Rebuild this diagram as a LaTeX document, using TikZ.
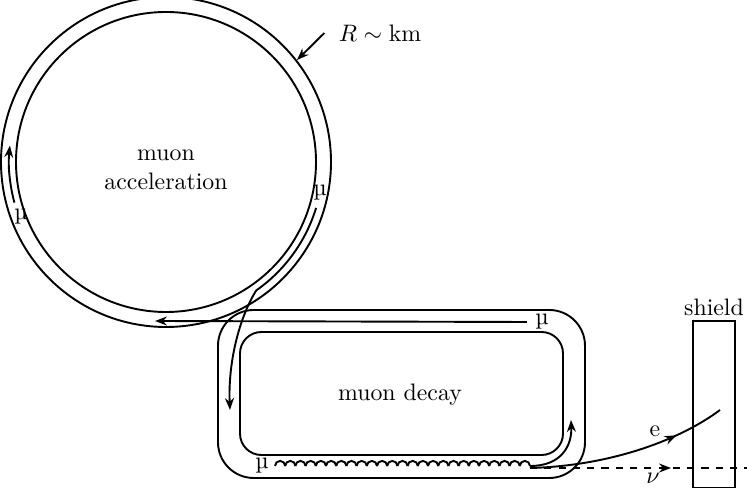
\documentclass[tikz,border=0pt]{standalone}
\usepackage{fontspec}
\usetikzlibrary{arrows.meta,decorations.markings}

\tikzset{
  wall/.style={thick},
  beam/.style={thick, -{Stealth[length=5pt]}},
  midarrow/.style={postaction={decorate}, decoration={markings,
    mark=at position #1 with {\arrow{Stealth[length=5pt]}}}}
}

\begin{document}
\begin{tikzpicture}[x=0.42pt, y=-0.42pt]
\useasboundingbox (0,0) rectangle (747,488);

% acceleration ring
\draw[wall] (166,162) circle (165*0.42pt);
\draw[wall] (166,162) circle (150*0.42pt);
\node (acc) at (166,170) [align=center] {muon\\acceleration};

% decay ring
\draw[wall, rounded corners=15pt] (218,310) rectangle (585,478);
\draw[wall, rounded corners=9pt] (240,332) rectangle (563,455);
\node (dec) at (400,395) {muon decay};

% muon beams
\node (muL) at (21,217) {\textmu};
\node (muR) at (320,193) {\textmu};
\node (muT) at (542,322) {\textmu};
\node (muB) at (262,466) {\textmu};
\draw[beam] (14.4,202.6) arc[start angle=195, end angle=174, radius=157*0.42pt];
\draw[beam] (muT.west) -- (155,321);
\coordinate (ex) at (256.1,290.6);
\draw[thick] (316.1,207.9) arc[start angle=-17, end angle=-55, radius=157*0.42pt];
\draw[beam] (ex) .. controls (238,320) and (228,365) .. (230,410);
\foreach \i in {0,...,24}
  \draw[thick] (275+10.2*\i,466) arc[start angle=180, end angle=0, radius=5.1*0.42pt];
\draw[beam] (530,466) .. controls (562,466) and (572,445) .. (571,420);

% decay products
\coordinate (e0) at (530,468);
\coordinate (e1) at (720,410);
\draw[thick, midarrow=0.75] (e0) .. controls (610,466) and (680,440) .. (e1);
\node (e) at (655,431) {e};
\draw[thick, dashed, midarrow=0.65] (e0) -- (747,468);
\node (nu) at (653,478) {$\nu$};

% shield
\draw[wall] (693,321) rectangle (735,488);
\node (shield) at (714,307) {shield};

% radius
\node (R) at (380,33) {$R\sim\mathrm{km}$};
\draw[beam] (R.west) ++(-6,0) -- (297,60);
\end{tikzpicture}
\end{document}
